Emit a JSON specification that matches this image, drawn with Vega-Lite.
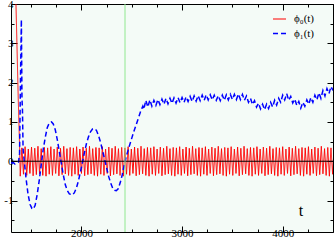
{
"$schema":"https://vega.github.io/schema/vega-lite/v6.json",
"width":322,"height":228,
"autosize":"none",
"padding":{"left":11,"top":4,"right":1,"bottom":12},
"background":"white",
"config":{
"view":{"fill":"#f4fbf7","stroke":"#000","strokeWidth":1},
"axis":{"domain":false,"grid":false,"labelFont":"Liberation Serif","labelFontSize":11,"labelColor":"#000","tickColor":"#000","tickWidth":1,"title":null}
},
"datasets":{
"phi":[
{"s":"a","t":1340,"v":5.0},{"s":"a","t":1372,"v":1.6},{"s":"a","t":1385,"v":0.4},
{"s":"a","t":1392,"v":-0.38},{"s":"a","t":1408,"v":0.34},{"s":"a","t":1424,"v":-0.33},{"s":"a","t":1440,"v":0.37},{"s":"a","t":1456,"v":-0.36},{"s":"a","t":1472,"v":0.31},{"s":"a","t":1488,"v":-0.31},{"s":"a","t":1504,"v":0.36},{"s":"a","t":1520,"v":-0.37},{"s":"a","t":1536,"v":0.33},{"s":"a","t":1552,"v":-0.34},{"s":"a","t":1568,"v":0.38},{"s":"a","t":1584,"v":-0.32},{"s":"a","t":1600,"v":0.32},{"s":"a","t":1616,"v":-0.36},{"s":"a","t":1632,"v":0.35},
{"s":"a","t":1648,"v":-0.38},{"s":"a","t":1664,"v":0.34},{"s":"a","t":1680,"v":-0.33},{"s":"a","t":1696,"v":0.37},{"s":"a","t":1712,"v":-0.36},{"s":"a","t":1728,"v":0.31},{"s":"a","t":1744,"v":-0.31},{"s":"a","t":1760,"v":0.36},{"s":"a","t":1776,"v":-0.37},{"s":"a","t":1792,"v":0.33},{"s":"a","t":1808,"v":-0.34},{"s":"a","t":1824,"v":0.38},{"s":"a","t":1840,"v":-0.32},{"s":"a","t":1856,"v":0.32},{"s":"a","t":1872,"v":-0.36},{"s":"a","t":1888,"v":0.35},
{"s":"a","t":1904,"v":-0.38},{"s":"a","t":1920,"v":0.34},{"s":"a","t":1936,"v":-0.33},{"s":"a","t":1952,"v":0.37},{"s":"a","t":1968,"v":-0.36},{"s":"a","t":1984,"v":0.31},{"s":"a","t":2000,"v":-0.31},{"s":"a","t":2016,"v":0.36},{"s":"a","t":2032,"v":-0.37},{"s":"a","t":2048,"v":0.33},{"s":"a","t":2064,"v":-0.34},{"s":"a","t":2080,"v":0.38},{"s":"a","t":2096,"v":-0.32},{"s":"a","t":2112,"v":0.32},{"s":"a","t":2128,"v":-0.36},{"s":"a","t":2144,"v":0.35},
{"s":"a","t":2160,"v":-0.38},{"s":"a","t":2176,"v":0.34},{"s":"a","t":2192,"v":-0.33},{"s":"a","t":2208,"v":0.37},{"s":"a","t":2224,"v":-0.36},{"s":"a","t":2240,"v":0.31},{"s":"a","t":2256,"v":-0.31},{"s":"a","t":2272,"v":0.36},{"s":"a","t":2288,"v":-0.37},{"s":"a","t":2304,"v":0.33},{"s":"a","t":2320,"v":-0.34},{"s":"a","t":2336,"v":0.38},{"s":"a","t":2352,"v":-0.32},{"s":"a","t":2368,"v":0.32},{"s":"a","t":2384,"v":-0.36},{"s":"a","t":2400,"v":0.35},
{"s":"a","t":2416,"v":-0.38},{"s":"a","t":2432,"v":0.34},{"s":"a","t":2448,"v":-0.33},{"s":"a","t":2464,"v":0.37},{"s":"a","t":2480,"v":-0.36},{"s":"a","t":2496,"v":0.31},{"s":"a","t":2512,"v":-0.31},{"s":"a","t":2528,"v":0.36},{"s":"a","t":2544,"v":-0.37},{"s":"a","t":2560,"v":0.33},{"s":"a","t":2576,"v":-0.34},{"s":"a","t":2592,"v":0.38},{"s":"a","t":2608,"v":-0.32},{"s":"a","t":2624,"v":0.32},{"s":"a","t":2640,"v":-0.36},{"s":"a","t":2656,"v":0.35},
{"s":"a","t":2672,"v":-0.38},{"s":"a","t":2688,"v":0.34},{"s":"a","t":2704,"v":-0.33},{"s":"a","t":2720,"v":0.37},{"s":"a","t":2736,"v":-0.36},{"s":"a","t":2752,"v":0.31},{"s":"a","t":2768,"v":-0.31},{"s":"a","t":2784,"v":0.36},{"s":"a","t":2800,"v":-0.37},{"s":"a","t":2816,"v":0.33},{"s":"a","t":2832,"v":-0.34},{"s":"a","t":2848,"v":0.38},{"s":"a","t":2864,"v":-0.32},{"s":"a","t":2880,"v":0.32},{"s":"a","t":2896,"v":-0.36},{"s":"a","t":2912,"v":0.35},
{"s":"a","t":2928,"v":-0.38},{"s":"a","t":2944,"v":0.34},{"s":"a","t":2960,"v":-0.33},{"s":"a","t":2976,"v":0.37},{"s":"a","t":2992,"v":-0.36},{"s":"a","t":3008,"v":0.31},{"s":"a","t":3024,"v":-0.31},{"s":"a","t":3040,"v":0.36},{"s":"a","t":3056,"v":-0.37},{"s":"a","t":3072,"v":0.33},{"s":"a","t":3088,"v":-0.34},{"s":"a","t":3104,"v":0.38},{"s":"a","t":3120,"v":-0.32},{"s":"a","t":3136,"v":0.32},{"s":"a","t":3152,"v":-0.36},{"s":"a","t":3168,"v":0.35},
{"s":"a","t":3184,"v":-0.38},{"s":"a","t":3200,"v":0.34},{"s":"a","t":3216,"v":-0.33},{"s":"a","t":3232,"v":0.37},{"s":"a","t":3248,"v":-0.36},{"s":"a","t":3264,"v":0.31},{"s":"a","t":3280,"v":-0.31},{"s":"a","t":3296,"v":0.36},{"s":"a","t":3312,"v":-0.37},{"s":"a","t":3328,"v":0.33},{"s":"a","t":3344,"v":-0.34},{"s":"a","t":3360,"v":0.38},{"s":"a","t":3376,"v":-0.32},{"s":"a","t":3392,"v":0.32},{"s":"a","t":3408,"v":-0.36},{"s":"a","t":3424,"v":0.35},
{"s":"a","t":3440,"v":-0.38},{"s":"a","t":3456,"v":0.34},{"s":"a","t":3472,"v":-0.33},{"s":"a","t":3488,"v":0.37},{"s":"a","t":3504,"v":-0.36},{"s":"a","t":3520,"v":0.31},{"s":"a","t":3536,"v":-0.31},{"s":"a","t":3552,"v":0.36},{"s":"a","t":3568,"v":-0.37},{"s":"a","t":3584,"v":0.33},{"s":"a","t":3600,"v":-0.34},{"s":"a","t":3616,"v":0.38},{"s":"a","t":3632,"v":-0.32},{"s":"a","t":3648,"v":0.32},{"s":"a","t":3664,"v":-0.36},{"s":"a","t":3680,"v":0.35},
{"s":"a","t":3696,"v":-0.38},{"s":"a","t":3712,"v":0.34},{"s":"a","t":3728,"v":-0.33},{"s":"a","t":3744,"v":0.37},{"s":"a","t":3760,"v":-0.36},{"s":"a","t":3776,"v":0.31},{"s":"a","t":3792,"v":-0.31},{"s":"a","t":3808,"v":0.36},{"s":"a","t":3824,"v":-0.37},{"s":"a","t":3840,"v":0.33},{"s":"a","t":3856,"v":-0.34},{"s":"a","t":3872,"v":0.38},{"s":"a","t":3888,"v":-0.32},{"s":"a","t":3904,"v":0.32},{"s":"a","t":3920,"v":-0.36},{"s":"a","t":3936,"v":0.35},
{"s":"a","t":3952,"v":-0.38},{"s":"a","t":3968,"v":0.34},{"s":"a","t":3984,"v":-0.33},{"s":"a","t":4000,"v":0.37},{"s":"a","t":4016,"v":-0.36},{"s":"a","t":4032,"v":0.31},{"s":"a","t":4048,"v":-0.31},{"s":"a","t":4064,"v":0.36},{"s":"a","t":4080,"v":-0.37},{"s":"a","t":4096,"v":0.33},{"s":"a","t":4112,"v":-0.34},{"s":"a","t":4128,"v":0.38},{"s":"a","t":4144,"v":-0.32},{"s":"a","t":4160,"v":0.32},{"s":"a","t":4176,"v":-0.36},{"s":"a","t":4192,"v":0.35},
{"s":"a","t":4208,"v":-0.38},{"s":"a","t":4224,"v":0.34},{"s":"a","t":4240,"v":-0.33},{"s":"a","t":4256,"v":0.37},{"s":"a","t":4272,"v":-0.36},{"s":"a","t":4288,"v":0.31},{"s":"a","t":4304,"v":-0.31},{"s":"a","t":4320,"v":0.36},{"s":"a","t":4336,"v":-0.37},{"s":"a","t":4352,"v":0.33},{"s":"a","t":4368,"v":-0.34},{"s":"a","t":4384,"v":0.38},{"s":"a","t":4400,"v":-0.32},{"s":"a","t":4416,"v":0.32},{"s":"a","t":4432,"v":-0.36},{"s":"a","t":4448,"v":0.35},
{"s":"a","t":4464,"v":-0.38},{"s":"a","t":4480,"v":0.34},{"s":"a","t":4496,"v":-0.33},{"s":"a","t":4512,"v":0.37},
{"s":"b","t":1300,"v":-0.05},{"s":"b","t":1320,"v":-0.03},{"s":"b","t":1340,"v":-0.07},{"s":"b","t":1360,"v":-0.04},{"s":"b","t":1375,"v":-0.02},{"s":"b","t":1385,"v":0.2},{"s":"b","t":1395,"v":2.2},{"s":"b","t":1403,"v":3.6},{"s":"b","t":1409,"v":1.6},{"s":"b","t":1414,"v":1.3},{"s":"b","t":1420,"v":0.3},{"s":"b","t":1432,"v":0.0},{"s":"b","t":1450,"v":-0.45},{"s":"b","t":1470,"v":-0.85},{"s":"b","t":1490,"v":-1.1},{"s":"b","t":1508,"v":-1.2},{"s":"b","t":1521,"v":-1.22},{"s":"b","t":1540,"v":-1.12},{"s":"b","t":1560,"v":-0.85},{"s":"b","t":1580,"v":-0.5},{"s":"b","t":1600,"v":-0.1},{"s":"b","t":1620,"v":0.3},{"s":"b","t":1640,"v":0.6},{"s":"b","t":1660,"v":0.85},{"s":"b","t":1680,"v":0.97},{"s":"b","t":1703,"v":1.0},{"s":"b","t":1720,"v":0.95},{"s":"b","t":1740,"v":0.8},{"s":"b","t":1760,"v":0.55},{"s":"b","t":1780,"v":0.25},{"s":"b","t":1800,"v":-0.05},{"s":"b","t":1820,"v":-0.35},{"s":"b","t":1840,"v":-0.6},{"s":"b","t":1860,"v":-0.75},{"s":"b","t":1880,"v":-0.83},{"s":"b","t":1911,"v":-0.86},{"s":"b","t":1930,"v":-0.8},{"s":"b","t":1950,"v":-0.68},{"s":"b","t":1970,"v":-0.5},{"s":"b","t":1990,"v":-0.27},{"s":"b","t":2010,"v":-0.03},{"s":"b","t":2030,"v":0.22},{"s":"b","t":2050,"v":0.45},{"s":"b","t":2070,"v":0.62},{"s":"b","t":2090,"v":0.75},{"s":"b","t":2110,"v":0.82},{"s":"b","t":2132,"v":0.83},{"s":"b","t":2150,"v":0.78},{"s":"b","t":2170,"v":0.65},{"s":"b","t":2190,"v":0.48},{"s":"b","t":2210,"v":0.27},{"s":"b","t":2230,"v":0.05},{"s":"b","t":2250,"v":-0.17},{"s":"b","t":2270,"v":-0.38},{"s":"b","t":2290,"v":-0.55},{"s":"b","t":2310,"v":-0.68},{"s":"b","t":2330,"v":-0.74},{"s":"b","t":2346,"v":-0.75},{"s":"b","t":2365,"v":-0.7},{"s":"b","t":2385,"v":-0.55},{"s":"b","t":2405,"v":-0.35},{"s":"b","t":2425,"v":-0.1},{"s":"b","t":2445,"v":0.12},{"s":"b","t":2480,"v":0.42},{"s":"b","t":2520,"v":0.75},{"s":"b","t":2560,"v":1.05},{"s":"b","t":2590,"v":1.28},{"s":"b","t":2610,"v":1.4},
{"s":"b","t":2620,"v":1.32},{"s":"b","t":2640,"v":1.55},{"s":"b","t":2660,"v":1.38},{"s":"b","t":2680,"v":1.56},{"s":"b","t":2700,"v":1.4},{"s":"b","t":2720,"v":1.55},{"s":"b","t":2740,"v":1.42},{"s":"b","t":2760,"v":1.57},{"s":"b","t":2780,"v":1.44},{"s":"b","t":2800,"v":1.58},{"s":"b","t":2820,"v":1.45},{"s":"b","t":2840,"v":1.6},{"s":"b","t":2860,"v":1.46},{"s":"b","t":2880,"v":1.6},{"s":"b","t":2900,"v":1.47},{"s":"b","t":2920,"v":1.61},{"s":"b","t":2940,"v":1.48},{"s":"b","t":2960,"v":1.62},{"s":"b","t":2980,"v":1.49},{"s":"b","t":3000,"v":1.62},{"s":"b","t":3020,"v":1.5},{"s":"b","t":3040,"v":1.64},{"s":"b","t":3060,"v":1.52},{"s":"b","t":3080,"v":1.65},{"s":"b","t":3100,"v":1.52},{"s":"b","t":3120,"v":1.66},{"s":"b","t":3140,"v":1.53},{"s":"b","t":3160,"v":1.67},{"s":"b","t":3180,"v":1.54},{"s":"b","t":3200,"v":1.68},{"s":"b","t":3220,"v":1.55},{"s":"b","t":3240,"v":1.69},{"s":"b","t":3260,"v":1.56},{"s":"b","t":3280,"v":1.69},{"s":"b","t":3300,"v":1.56},{"s":"b","t":3320,"v":1.68},{"s":"b","t":3340,"v":1.55},{"s":"b","t":3360,"v":1.67},{"s":"b","t":3380,"v":1.54},{"s":"b","t":3400,"v":1.68},{"s":"b","t":3420,"v":1.55},{"s":"b","t":3440,"v":1.69},{"s":"b","t":3460,"v":1.56},{"s":"b","t":3480,"v":1.7},{"s":"b","t":3500,"v":1.57},{"s":"b","t":3520,"v":1.7},{"s":"b","t":3540,"v":1.57},{"s":"b","t":3560,"v":1.71},{"s":"b","t":3580,"v":1.57},{"s":"b","t":3600,"v":1.7},{"s":"b","t":3620,"v":1.55},{"s":"b","t":3640,"v":1.66},{"s":"b","t":3660,"v":1.5},{"s":"b","t":3680,"v":1.6},{"s":"b","t":3700,"v":1.44},{"s":"b","t":3720,"v":1.54},{"s":"b","t":3740,"v":1.38},{"s":"b","t":3760,"v":1.48},{"s":"b","t":3780,"v":1.33},{"s":"b","t":3800,"v":1.45},{"s":"b","t":3820,"v":1.31},{"s":"b","t":3840,"v":1.45},{"s":"b","t":3860,"v":1.34},{"s":"b","t":3880,"v":1.5},{"s":"b","t":3900,"v":1.38},{"s":"b","t":3920,"v":1.55},{"s":"b","t":3940,"v":1.43},{"s":"b","t":3960,"v":1.6},{"s":"b","t":3980,"v":1.5},{"s":"b","t":4000,"v":1.68},{"s":"b","t":4020,"v":1.56},{"s":"b","t":4040,"v":1.72},{"s":"b","t":4060,"v":1.55},{"s":"b","t":4080,"v":1.65},{"s":"b","t":4100,"v":1.48},{"s":"b","t":4120,"v":1.58},{"s":"b","t":4140,"v":1.42},{"s":"b","t":4160,"v":1.52},{"s":"b","t":4180,"v":1.35},{"s":"b","t":4200,"v":1.5},{"s":"b","t":4220,"v":1.4},{"s":"b","t":4240,"v":1.56},{"s":"b","t":4260,"v":1.45},{"s":"b","t":4280,"v":1.62},{"s":"b","t":4300,"v":1.5},{"s":"b","t":4320,"v":1.68},{"s":"b","t":4340,"v":1.56},{"s":"b","t":4360,"v":1.74},{"s":"b","t":4380,"v":1.6},{"s":"b","t":4400,"v":1.8},{"s":"b","t":4420,"v":1.66},{"s":"b","t":4440,"v":1.85},{"s":"b","t":4460,"v":1.72},{"s":"b","t":4480,"v":1.9},{"s":"b","t":4500,"v":1.8}
],
"hline":[{"t0":1300,"t1":4500,"v":0}],
"vline":[{"t":2433,"y0":-1.8,"y1":4}],
"lab":[{"t":4182,"v":-1.27,"txt":"t"}]
},
"resolve":{"axis":{"x":"independent","y":"independent"}},
"layer":[
{"data":{"name":"phi"},
"mark":{"type":"line","clip":true,"interpolate":"linear"},
"encoding":{
"x":{"field":"t","type":"quantitative","scale":{"domain":[1300,4500],"nice":false,"zero":false},"axis":{"orient":"bottom","values":[2000,3000,4000],"tickSize":-6,"labelPadding":1,"format":"d"}},
"y":{"field":"v","type":"quantitative","scale":{"domain":[-1.8,4],"nice":false,"zero":false},"axis":{"orient":"left","values":[-1,0,1,2,3,4],"tickSize":-6,"labelPadding":4,"labelExpr":"replace(datum.label,'−','-')"}},
"color":{"field":"s","type":"nominal","scale":{"domain":["a","b"],"range":["#ff0000","#0000ff"]},"legend":{"orient":"none","legendX":261,"legendY":8,"title":null,"symbolType":"stroke","symbolSize":169,"labelFont":"Liberation Serif","labelFontSize":11,"labelColor":"#000","labelOffset":7,"rowPadding":2,"padding":0,"labelExpr":"datum.value=='a'?'ϕ₀(t)':'ϕ₁(t)'"}},
"strokeDash":{"field":"s","type":"nominal","scale":{"domain":["a","b"],"range":[[1,0],[5,3]]},"legend":{"orient":"none","legendX":261,"legendY":8,"title":null,"symbolType":"stroke","symbolSize":169,"labelFont":"Liberation Serif","labelFontSize":11,"labelColor":"#000","labelOffset":7,"rowPadding":2,"padding":0,"labelExpr":"datum.value=='a'?'ϕ₀(t)':'ϕ₁(t)'"}},
"strokeWidth":{"field":"s","type":"nominal","scale":{"domain":["a","b"],"range":[1,1.5]},"legend":{"orient":"none","legendX":261,"legendY":8,"title":null,"symbolType":"stroke","symbolSize":169,"labelFont":"Liberation Serif","labelFontSize":11,"labelColor":"#000","labelOffset":7,"rowPadding":2,"padding":0,"labelExpr":"datum.value=='a'?'ϕ₀(t)':'ϕ₁(t)'"}}
}},
{"data":{"name":"hline"},
"mark":{"type":"rule","color":"#000","strokeWidth":1},
"encoding":{
"x":{"field":"t0","type":"quantitative","scale":{"domain":[1300,4500],"nice":false,"zero":false},"axis":{"orient":"bottom","values":[1500,1750,2250,2500,2750,3250,3500,3750,4250,4500],"tickSize":-3,"labels":false}},
"x2":{"field":"t1"},
"y":{"field":"v","type":"quantitative","scale":{"domain":[-1.8,4],"nice":false,"zero":false},"axis":{"orient":"left","values":[-1.5,-0.5,0.5,1.5,2.5,3.5],"tickSize":-3,"labels":false}}
}},
{"data":{"name":"vline"},
"mark":{"type":"rule","color":"#90e890","strokeWidth":1},
"encoding":{
"x":{"field":"t","type":"quantitative","scale":{"domain":[1300,4500],"nice":false,"zero":false},"axis":{"orient":"top","values":[2000,3000,4000],"tickSize":-6,"labels":false}},
"y":{"field":"y0","type":"quantitative","scale":{"domain":[-1.8,4],"nice":false,"zero":false},"axis":{"orient":"right","values":[-1,0,1,2,3,4],"tickSize":-6,"labels":false}},
"y2":{"field":"y1"}
}},
{"data":{"name":"lab"},
"mark":{"type":"text","font":"Liberation Serif","fontSize":16,"color":"#000","align":"center","baseline":"middle"},
"encoding":{
"x":{"field":"t","type":"quantitative","scale":{"domain":[1300,4500],"nice":false,"zero":false},"axis":{"orient":"top","values":[1500,1750,2250,2500,2750,3250,3500,3750,4250,4500],"tickSize":-3,"labels":false}},
"y":{"field":"v","type":"quantitative","scale":{"domain":[-1.8,4],"nice":false,"zero":false},"axis":{"orient":"right","values":[-1.5,-0.5,0.5,1.5,2.5,3.5],"tickSize":-3,"labels":false}},
"text":{"field":"txt"}
}}
]
}
